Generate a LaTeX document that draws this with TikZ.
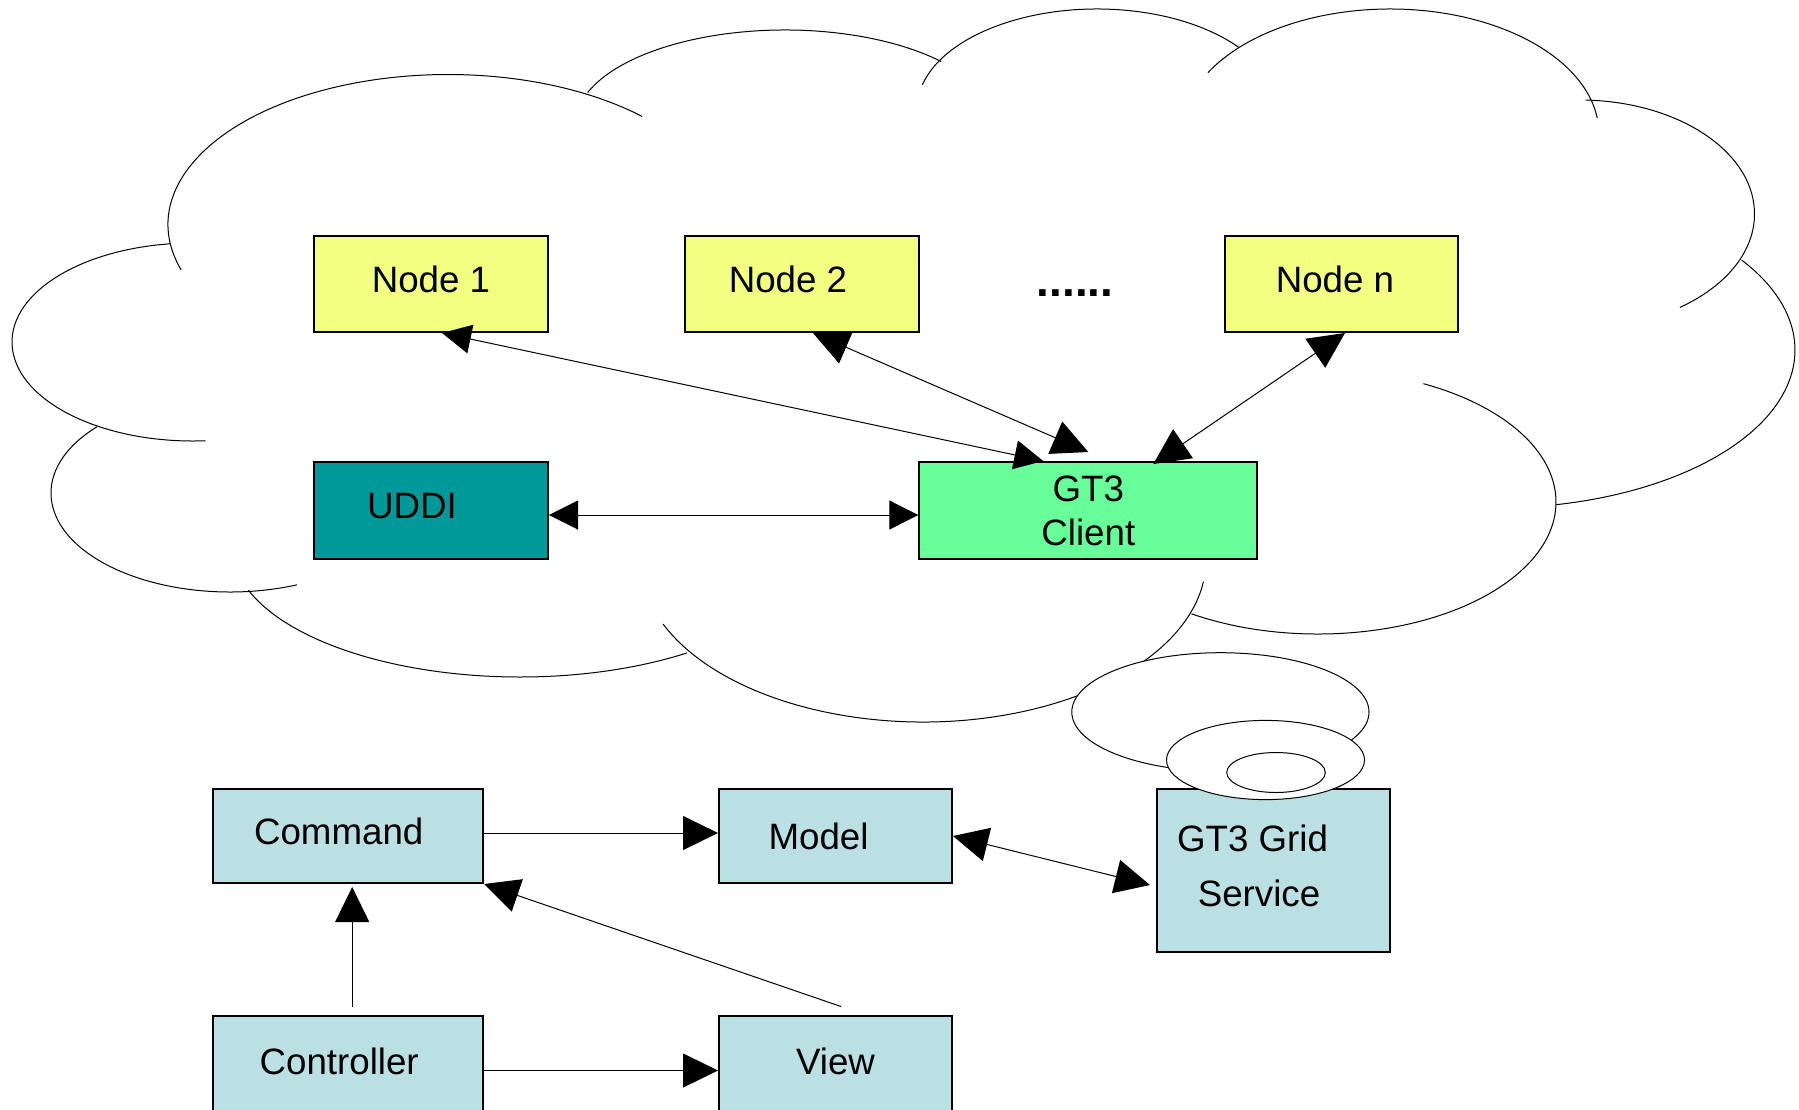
\documentclass[tikz,border=0pt]{standalone}
\usepackage{fontspec}
\setmainfont{Liberation Sans}
\usetikzlibrary{arrows.meta}
\definecolor{NodeYellow}{RGB}{242,255,128}
\definecolor{UddiTeal}{RGB}{0,153,153}
\definecolor{ClientGreen}{RGB}{102,255,153}
\definecolor{MvcBlue}{RGB}{187,224,227}
\tikzstyle{BoxNode}=[draw=black, line width=2pt, inner sep=0pt, text depth=9pt, font=\fontsize{36.7}{44}\selectfont]
\tikzstyle{CloudLine}=[draw=black, line width=1pt]
\tikzset{SmallTip/.style={>={Triangle[length=29pt,width=29pt]}},
         BigTip/.style={>={Triangle[length=36pt,width=35pt]}}}

\begin{document}
\begin{tikzpicture}[x=1pt, y=-1pt, line width=1pt, >={Triangle[length=35pt,width=34pt]}]
      \useasboundingbox (0,0) rectangle (1799,1109);
      \clip (0,0) rectangle (1799,1109);
      % cloud lobes: centre / radii / start / end
      \foreach \cx/\cy/\rx/\ry/\sa/\ea in {448/224.5/280/150/197.6/46.1, 193/342/181/99/97.3/274,
          230/493/179/99/138/292, 520/547/288/130/199.4/305.4, 923/560/283/162/203.3/352.3,
          1318/502/238/132/237.9/423.7, 1495/350/300/158/-78.3/34.7, 1579.5/214/175/114/88/-55,
          1390/134/209/125/150.6/7.4, 1097/109/180/100/166/37.8, 785/125/210/95/160/42}
        \draw[CloudLine] ([shift={(\sa:\rx pt and \ry pt)}]\cx,\cy) arc[start angle=\sa, end angle=\ea, x radius=\rx pt, y radius=\ry pt];
      \node[BoxNode, fill=NodeYellow, minimum width=234pt, minimum height=96pt] (n1) at (431,284) {Node 1};
      \node[BoxNode, fill=NodeYellow, minimum width=234pt, minimum height=96pt] (n2) at (802,284) {\hspace*{-28pt}Node 2};
      \node[BoxNode, fill=NodeYellow, minimum width=233pt, minimum height=96pt] (nn) at (1341.5,284) {\hspace*{-13pt}Node n};
      \node[anchor=base, font=\fontsize{46}{50}\selectfont\bfseries] (dots) at (1075,296.7) {......};
      \node[BoxNode, fill=UddiTeal, minimum width=234pt, minimum height=97pt] (uddi) at (431,510.5) {\hspace*{-38pt}UDDI};
      \node[BoxNode, fill=ClientGreen, minimum width=338pt, minimum height=97pt, text depth=0pt, align=center] (client) at (1088.3,510.5) {GT3\\Client};
      \draw[SmallTip, <->] ([xshift=11pt]n1.south) -- ([xshift=-45pt]client.north);
      \draw[BigTip, <->] ([xshift=11pt]n2.south) -- ([yshift=9pt]client.north);
      \draw[BigTip, <->] ([xshift=3.5pt]nn.south) -- ([xshift=65pt,yshift=-3pt]client.north);
      \draw[SmallTip, <->] ([yshift=-4.5pt]uddi.east) -- ([yshift=-4.5pt]client.west);
      % MVC part
      \node[BoxNode, fill=MvcBlue, minimum width=270pt, minimum height=94pt] (cmd) at (348.2,836) {\hspace*{-19pt}Command};
      \node[BoxNode, fill=MvcBlue, minimum width=233pt, minimum height=94pt, text depth=0pt] (model) at (835.5,836) {\hspace*{-34pt}Model};
      \node[BoxNode, fill=MvcBlue, minimum width=233pt, minimum height=163pt, align=center] (grid) at (1273.5,870.5) {\hspace*{-42pt}GT3 Grid\\[11pt]\hspace*{-29pt}Service};
      \node[BoxNode, fill=MvcBlue, minimum width=270pt, minimum height=100pt] (ctrl) at (348.2,1065.5) {\hspace*{-18pt}Controller};
      \node[BoxNode, fill=MvcBlue, minimum width=233pt, minimum height=100pt] (view) at (835.5,1065.5) {View};
      \draw[->] ([yshift=3pt]cmd.east) -- ([yshift=3pt]model.west);
      \draw[->] ([xshift=4pt,yshift=8pt]ctrl.north) -- ([xshift=4pt,yshift=-3pt]cmd.south);
      \draw[->] ([yshift=-5pt]ctrl.east) -- ([yshift=-5pt]view.west);
      \draw[->] ([xshift=5.5pt,yshift=8pt]view.north) -- (cmd.south east);
      \draw[<->] (model.east) -- ([xshift=-6pt,yshift=-14.5pt]grid.west);
      % thought bubbles
      \draw[CloudLine, fill=white] (1220.4,712) ellipse [x radius=148.6pt, y radius=59.3pt];
      \draw[CloudLine, fill=white] (1265.5,760) ellipse [x radius=99pt, y radius=39.6pt];
      \draw[CloudLine, fill=white] (1276,772.5) ellipse [x radius=49.3pt, y radius=20pt];
    \end{tikzpicture}
\end{document}
